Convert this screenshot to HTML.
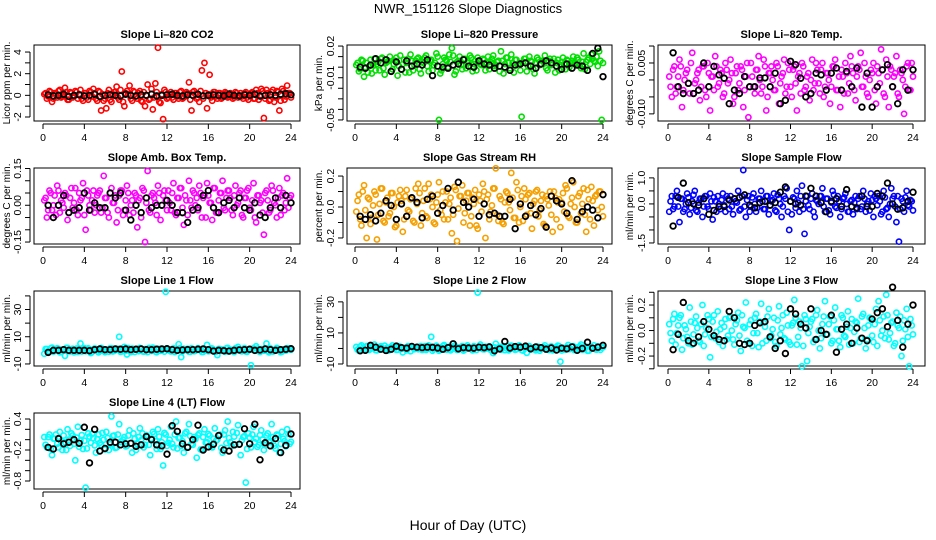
<!DOCTYPE html>
<html><head><meta charset="utf-8">
<style>
html,body{margin:0;padding:0;background:#fff;}
svg{display:block;font-family:"Liberation Sans",Arial,sans-serif;}
</style></head>
<body>
<svg id="chart" width="936" height="540" viewBox="0 0 936 540">
<text x="468" y="13" text-anchor="middle" font-size="13">NWR_151126  Slope Diagnostics</text>
<text x="468" y="530" text-anchor="middle" font-size="14">Hour of Day (UTC)</text>
</svg>
<script>
// ---------- data ----------
const hourTicks = [0,4,8,12,16,20,24];

const co2Color = [0.1,-0.3,0.4,-0.6,0.2,-0.2,0.5,-0.1,0.7,-0.4,0.3,-0.2,
0.4,-0.3,0.5,-0.5,0.2,-0.4,0.3,0.6,-0.3,0.4,-1.4,-0.5,
-1.2,0.5,-0.6,0.3,0.8,-0.4,2.2,-1.0,0.4,0.9,-0.5,0.3,
-0.3,0.4,-0.6,-1.0,1.0,-0.3,-1.3,1.1,4.4,-0.7,-2.2,0.3,
-0.2,0.3,-0.4,0.2,-0.3,0.4,-0.2,0.3,1.2,-1.4,0.4,-0.3,
-0.6,2.3,3.0,-1.2,1.9,-0.5,0.3,-0.3,0.2,-0.2,0.3,-0.2,
0.2,-0.3,0.3,-0.2,0.2,-0.3,0.3,-0.4,0.2,-0.3,0.5,-0.4,
0.6,-2.1,0.5,-0.5,0.3,-0.6,0.4,-1.4,0.6,-0.4,0.9,0.2];
const co2ColorB = [0.2,-0.1,0.3,-0.3,0.1,0.4,-0.2,0.0,0.3,-0.4,0.2,-0.1,0.3,0.1,-0.3,0.2,-0.2,0.4,-0.1,0.2,-0.5,0.3,0.1,-0.3,
0.2,-0.4,0.1,0.3,-0.2,0.5,-0.6,0.2,0.1,-0.3,0.4,-0.1,0.2,-0.5,0.3,0.0,-0.4,0.6,-0.2,0.3,-0.6,0.1,0.5,-0.3,
0.1,-0.2,0.2,-0.1,0.3,-0.3,0.1,0.2,-0.4,0.3,0.1,-0.2,0.4,-0.3,0.2,0.1,-0.2,0.3,-0.1,0.2,-0.3,0.1,0.2,-0.1,
0.1,-0.2,0.2,0.0,-0.1,0.2,-0.2,0.1,0.3,-0.3,0.2,-0.1,0.4,-0.3,0.2,-0.4,0.5,-0.2,0.3,-0.5,0.4,-0.1,0.2,-0.2];
const co2Black = [0.05,-0.05,0.0,0.1,-0.1,0.0,0.05,-0.05,0.0,0.1,-0.1,0.0,0.05,0.0,-0.05,0.1,0.0,-0.05,0.05,0.0,0.1,-0.05,0.0,0.05,0.1,0.0,-0.05,0.05,0.0,0.1,-0.05,0.0,0.05,0.0,-0.05,0.1,0.0,-0.05,0.05,0.0,0.1,-0.05,0.0,0.05,0.0,0.1,0.15,0.05];

const presColor = [0.002,-0.004,0.007,-0.009,0.004,0.001,-0.006,0.008,0.003,-0.003,0.009,-0.007,
0.005,0.010,-0.002,0.006,-0.008,0.011,0.003,-0.005,0.008,0.012,-0.003,0.006,
0.009,-0.006,0.004,0.011,-0.004,0.007,0.002,0.013,-0.050,-0.003,0.009,0.006,
0.012,0.018,-0.007,0.005,0.010,-0.002,0.008,0.004,0.011,-0.004,0.006,0.009,
0.003,0.008,-0.003,0.010,0.005,0.011,0.002,0.006,0.015,-0.006,0.009,0.004,
0.012,-0.005,0.007,0.003,-0.047,0.008,-0.004,0.010,0.005,-0.006,0.009,0.002,
0.006,0.011,-0.003,0.008,0.004,-0.005,0.007,0.002,0.009,-0.002,0.006,0.004,
0.010,0.003,0.007,-0.001,0.013,0.005,0.009,0.012,0.006,0.010,0.015,-0.050];
const presColorB = [0.004,-0.002,0.006,0.000,-0.005,0.007,0.002,-0.003,0.005,0.008,-0.001,0.004,0.006,-0.004,0.003,0.009,0.001,-0.002,0.007,0.004,-0.005,0.006,0.002,0.008,
-0.002,0.005,0.009,0.001,0.006,-0.003,0.004,0.010,-0.006,0.003,0.007,0.000,0.005,0.011,-0.004,0.006,0.002,0.008,-0.001,0.004,0.009,0.003,-0.003,0.006,
0.002,0.007,0.004,-0.002,0.008,0.001,0.005,-0.004,0.006,0.003,0.009,-0.001,0.004,0.007,0.002,-0.003,0.005,0.008,0.001,0.006,-0.002,0.004,0.007,0.003,
0.005,-0.001,0.006,0.002,0.008,0.004,-0.003,0.005,0.003,0.007,0.000,0.006,0.004,0.009,0.002,0.005,-0.002,0.007,0.003,0.008,0.005,0.001,0.006,0.004];
const presBlack = [0.0,-0.001,0.002,0.008,0.004,0.007,-0.004,0.005,-0.002,0.006,0.001,0.003,0.002,0.007,-0.008,0.001,0.000,-0.001,0.002,0.003,0.007,0.001,0.000,0.006,0.003,0.002,-0.001,0.001,0.000,-0.003,0.002,0.003,0.004,0.001,-0.001,0.003,0.006,0.004,0.001,-0.002,0.003,-0.001,0.002,0.001,-0.003,0.013,0.018,-0.009];

const tempColor = [0.001,-0.005,0.004,-0.002,0.006,-0.008,0.000,0.003,-0.004,0.008,-0.001,0.002,
-0.006,0.004,-0.003,0.005,-0.009,0.001,0.007,-0.002,0.003,-0.005,0.005,-0.001,
0.006,-0.007,0.002,-0.003,0.004,-0.008,0.001,-0.011,0.005,-0.002,0.003,0.007,
-0.004,0.006,-0.009,0.002,0.004,-0.003,0.005,-0.007,0.001,0.006,-0.002,0.003,
-0.005,0.004,-0.009,0.002,0.005,-0.003,0.001,-0.006,0.006,-0.001,0.003,-0.004,
0.005,-0.002,0.002,-0.007,0.004,0.006,-0.003,-0.008,0.001,0.005,-0.004,0.007,
0.002,-0.006,0.004,0.008,-0.002,0.001,-0.005,0.003,0.005,-0.007,0.002,0.009,
-0.004,0.006,-0.008,0.003,0.001,0.007,-0.005,0.002,-0.010,0.004,-0.003,0.005];
const tempColorB = [-0.002,0.003,-0.004,0.001,0.004,-0.003,0.002,-0.001,0.005,-0.004,0.000,0.003,-0.002,0.004,-0.005,0.002,0.001,-0.003,0.004,-0.001,0.002,-0.004,0.003,0.000,
0.002,-0.005,0.004,-0.001,0.003,-0.003,0.005,-0.002,0.001,-0.004,0.003,0.000,-0.002,0.004,-0.005,0.002,0.000,-0.003,0.004,-0.001,0.002,-0.004,0.005,-0.002,
0.003,-0.001,0.001,-0.004,0.004,-0.002,0.002,0.000,-0.003,0.005,-0.001,0.003,-0.005,0.002,0.000,-0.002,0.004,-0.003,0.001,0.003,-0.004,0.002,-0.001,0.004,
-0.003,0.001,0.003,-0.002,0.005,-0.004,0.000,0.002,-0.003,0.004,-0.001,0.003,-0.005,0.001,0.004,-0.002,0.002,-0.004,0.003,0.000,-0.002,0.005,-0.003,0.001];
const tempBlack = [0.008,-0.002,-0.004,-0.001,-0.004,-0.003,0.005,-0.002,0.004,0.0015,0.0005,-0.007,-0.003,-0.004,0.001,-0.002,-0.002,0.0006,0.0006,-0.002,0.002,-0.007,-0.006,0.0055,0.0045,0.0005,-0.005,-0.004,0.002,0.0015,-0.003,0.002,0.0035,-0.003,0.0025,-0.002,0.0035,-0.008,0.002,-0.008,-0.002,0.003,0.0045,-0.002,-0.007,0.003,-0.003,0.003];

const boxColor = [0.02,-0.05,0.06,-0.02,0.04,0.08,-0.03,0.01,0.05,-0.06,0.03,-0.01,
0.07,-0.04,0.02,0.09,-0.10,0.04,-0.02,0.06,0.00,0.05,-0.03,0.12,
0.03,-0.05,0.07,0.01,-0.07,0.04,0.06,-0.02,0.08,-0.04,0.02,0.05,
-0.09,0.03,0.07,-0.15,0.14,-0.03,0.05,0.01,0.08,-0.06,0.04,0.02,
0.06,-0.02,0.09,-0.04,0.03,0.07,-0.08,0.02,0.10,-0.01,0.05,0.03,
0.08,-0.05,0.04,0.09,0.01,-0.06,0.07,-0.03,0.05,0.10,-0.02,0.06,
0.03,-0.04,0.08,0.01,0.06,-0.05,0.03,0.07,-0.02,0.09,-0.07,0.04,
0.02,-0.12,0.06,-0.03,0.08,0.01,-0.05,0.07,0.04,-0.02,0.11,0.03];
const boxColorB = [0.03,-0.02,0.05,0.00,-0.04,0.06,0.02,-0.01,0.04,-0.03,0.07,0.01,-0.02,0.05,0.03,-0.04,0.06,0.00,0.02,-0.03,0.04,0.06,-0.01,0.03,
-0.03,0.05,0.01,0.04,-0.02,0.06,-0.04,0.02,0.05,0.00,-0.03,0.04,0.02,-0.05,0.06,0.01,-0.02,0.04,0.03,-0.04,0.05,0.00,0.06,-0.02,
0.01,0.05,-0.03,0.03,0.07,-0.01,0.04,-0.04,0.02,0.06,0.00,-0.02,0.05,0.03,-0.05,0.04,0.01,0.07,-0.03,0.02,0.05,-0.01,0.03,0.06,
-0.02,0.04,0.00,0.05,-0.04,0.03,0.06,-0.01,0.02,-0.05,0.04,0.01,-0.03,0.05,0.02,-0.02,0.06,0.00,0.03,-0.04,0.05,0.01,-0.01,0.04];
const boxBlack = [0.00,-0.05,0.00,0.04,-0.03,-0.02,-0.01,0.05,-0.02,0.01,-0.01,-0.01,0.05,0.03,0.05,-0.02,-0.06,0.00,-0.03,0.03,-0.01,0.00,0.00,0.02,0.00,-0.03,-0.03,-0.07,-0.02,-0.01,0.04,0.06,-0.01,-0.03,0.01,0.02,-0.01,0.03,-0.01,-0.02,0.01,-0.04,-0.05,-0.01,0.03,-0.01,0.04,0.01];

const rhColor = [-0.03,0.08,-0.12,0.14,-0.20,0.05,-0.07,0.10,-0.21,0.02,0.12,-0.10,
0.06,-0.04,0.09,-0.13,0.03,0.11,-0.16,0.07,-0.02,0.05,-0.09,0.12,
0.15,-0.12,0.04,-0.06,0.15,0.08,-0.10,0.03,0.16,-0.05,-0.08,0.10,
0.02,-0.17,0.13,-0.22,0.07,0.14,-0.04,0.09,-0.12,0.06,0.11,-0.14,
0.04,0.15,-0.20,0.08,-0.03,0.12,0.25,-0.09,0.05,-0.11,0.10,0.03,
0.22,-0.07,0.16,-0.10,0.07,0.12,-0.05,0.09,-0.14,0.04,0.11,-0.02,
0.08,-0.12,0.05,0.10,-0.16,0.06,0.03,-0.13,0.09,0.14,-0.06,0.02,
0.16,-0.10,0.07,-0.04,0.12,-0.16,0.05,0.13,-0.12,0.08,0.10,0.00];
const rhColorB = [0.04,-0.08,0.10,-0.02,0.06,-0.11,0.01,0.08,-0.05,0.12,-0.09,0.03,-0.06,0.09,0.00,-0.12,0.07,0.04,-0.08,0.11,-0.03,0.06,-0.10,0.02,
0.09,-0.04,0.12,-0.07,0.05,0.00,-0.11,0.08,-0.02,0.10,0.03,-0.08,0.06,-0.05,0.11,-0.01,0.07,-0.10,0.04,0.09,-0.06,0.02,-0.12,0.08,
-0.03,0.10,0.05,-0.08,0.01,0.12,-0.05,0.07,-0.10,0.03,0.09,-0.02,0.06,-0.07,0.11,0.00,-0.09,0.05,0.08,-0.04,0.02,0.10,-0.06,0.04,
-0.11,0.07,0.01,-0.05,0.10,-0.08,0.05,0.03,-0.03,0.12,-0.07,0.06,0.00,-0.10,0.09,0.02,-0.05,0.11,-0.08,0.04,0.07,-0.02,0.10,-0.06];
const rhBlack = [-0.06,-0.08,-0.05,-0.09,-0.04,0.04,0.01,-0.08,0.02,-0.06,0.06,0.03,-0.07,0.05,0.07,-0.04,0.01,0.12,-0.02,0.16,0.03,0.00,0.05,-0.06,0.02,-0.05,-0.04,-0.06,-0.06,0.05,-0.14,0.02,-0.06,0.01,-0.05,-0.01,-0.13,0.07,0.04,0.02,-0.04,0.17,-0.08,-0.03,0.00,-0.02,-0.07,0.08];

const sampleColor = [-0.3,0.3,-0.1,0.5,-0.7,0.2,-0.2,0.4,-0.4,0.1,0.5,-0.3,
0.2,-0.5,0.3,-0.1,0.4,-0.6,0.1,0.3,-0.2,0.4,-0.3,0.2,
0.3,-0.4,0.1,0.5,-0.2,1.3,-0.5,0.3,-0.1,0.4,-0.3,0.2,
0.5,-0.2,0.3,-0.4,0.1,0.4,-0.3,0.2,-0.5,0.3,0.6,-1.0,
-0.4,0.2,0.5,-0.3,0.7,-1.15,0.3,-0.2,0.4,-0.5,0.1,0.3,
0.6,-0.3,0.2,-0.4,0.5,-0.1,0.3,-0.5,0.2,0.4,-0.3,0.1,
-0.4,0.3,0.2,-0.2,0.5,-0.3,0.1,0.4,-0.5,0.2,0.3,-0.4,
0.5,-0.2,-0.5,0.6,0.3,-0.7,-1.45,0.2,-0.3,0.5,-0.1,0.1];
const sampleColorB = [0.1,-0.2,0.3,-0.1,0.2,-0.3,0.0,0.25,-0.15,0.35,-0.25,0.05,0.2,-0.1,0.3,-0.2,0.1,0.25,-0.3,0.0,0.15,-0.05,0.3,-0.2,
-0.1,0.2,0.05,-0.25,0.3,-0.1,0.15,-0.3,0.25,0.0,-0.15,0.2,0.1,-0.2,0.3,-0.05,0.15,-0.25,0.35,0.0,-0.1,0.2,-0.3,0.1,
0.25,-0.15,0.05,0.3,-0.2,0.1,-0.05,0.2,-0.3,0.15,0.0,0.3,-0.1,0.2,-0.25,0.05,0.35,-0.15,0.1,-0.2,0.25,0.0,-0.3,0.15,
0.05,-0.2,0.3,-0.1,0.2,0.0,-0.25,0.15,0.3,-0.05,0.1,-0.3,0.25,-0.15,0.0,0.2,-0.1,0.3,-0.2,0.1,0.25,-0.05,0.15,-0.25];
const sampleBlack = [-0.85,0.25,0.8,0.05,0.0,-0.05,0.2,-0.4,-0.25,-0.1,-0.1,0.15,0.2,0.25,0.35,-0.05,-0.15,0.05,0.1,-0.05,0.05,0.45,0.65,0.1,0.0,-0.05,0.3,0.6,0.3,0.05,-0.3,0.1,0.2,-0.1,0.55,-0.1,-0.15,0.3,-0.1,-0.1,0.4,0.3,0.8,0.0,-0.2,-0.15,0.1,0.45];

const line1Color = [-2.5,1.0,-1.0,2.0,-0.5,1.5,-1.5,0.5,-4.0,1.8,-0.8,1.2,
0.3,-1.2,5.0,0.8,-0.6,1.5,-2.0,0.5,1.0,-1.5,1.8,-0.3,
0.6,-1.0,1.5,-0.5,1.2,10.0,-0.8,2.5,-3.0,0.8,1.3,-1.2,
0.5,1.8,-0.7,1.0,-1.3,0.7,2.0,-0.9,1.2,-0.4,1.0,43.0,
0.3,-0.8,1.5,-0.5,4.5,-5.0,1.2,0.3,-1.0,1.5,-0.6,0.9,
0.4,-1.2,0.8,4.0,-0.5,1.3,-0.8,-3.5,1.0,0.5,-1.0,1.8,
0.3,-0.7,1.5,2.5,-0.5,1.0,-0.8,0.7,-11.0,1.5,3.0,-0.6,
1.0,-0.3,5.0,-1.5,0.8,-0.5,1.8,1.0,-1.0,0.5,1.5,0.8];
const line1ColorB = [1.0,-0.5,1.5,-1.0,0.5,1.2,-1.3,0.2,1.8,-0.7,0.8,-1.5,1.3,0.0,-0.9,1.6,-0.3,0.9,-1.2,1.4,0.3,-0.6,1.1,-1.4,
0.6,1.5,-0.8,0.1,1.2,-1.1,0.7,-0.4,1.6,-1.3,0.4,0.9,-0.6,1.3,-1.0,0.2,1.7,-0.5,0.8,-1.4,1.1,0.0,-0.9,1.4,
-0.2,1.0,-1.3,0.6,1.5,-0.7,0.3,1.2,-1.1,0.8,-0.4,1.6,0.1,-1.2,0.9,-0.6,1.4,0.2,-1.0,1.1,-0.3,0.7,1.5,-0.8,
0.4,-1.3,1.2,0.0,-0.7,1.6,-1.1,0.5,0.9,-0.4,1.3,-1.2,0.2,1.0,-0.6,1.5,-0.9,0.3,1.1,-1.4,0.7,-0.2,1.4,0.5];
const line1Black = [-1.5,0,0,0.5,0,0,0,0,-0.3,0.5,1,0.5,0.5,1,0.8,1,0.5,0.8,1,0.5,0.5,0.8,1,1.2,0.5,0,0.3,0.5,0.5,0.8,1,0.5,-0.5,0,-0.3,-0.5,0,0.3,0.5,0.8,0,0.3,1,0.5,0,0.5,0.8,1.2];

const line2Color = [1.0,-1.5,2.0,-0.5,1.5,-1.0,0.5,2.5,-1.2,1.0,-0.3,1.8,
0.5,-1.0,2.0,0.3,-0.8,1.2,-2.5,0.6,1.5,-1.8,0.8,0.2,
-0.5,1.5,0.5,-1.0,2.0,7.5,-0.6,1.8,-1.5,0.5,2.2,-0.8,
1.2,-0.4,1.8,-1.0,0.6,1.5,-0.7,2.0,0.3,-1.2,1.0,36.0,
2.5,-0.5,1.2,0.8,-1.0,-3.0,3.0,0.5,-0.8,1.5,0.2,-1.2,
1.8,0.5,-0.6,2.0,-1.0,0.8,-2.8,1.5,0.3,-0.5,1.2,-1.5,
0.8,2.0,-0.4,1.0,-1.2,0.6,1.8,-8.5,0.5,-0.8,2.2,-0.3,
1.5,-1.0,0.8,2.5,-0.5,1.2,-1.5,0.6,2.0,-0.8,1.0,0.5];
const line2ColorB = [-0.8,1.2,0.3,-1.4,1.6,-0.2,0.9,-1.1,0.5,1.4,-0.6,0.1,-1.3,1.0,0.6,-0.9,1.5,-0.4,0.2,-1.2,1.3,0.7,-0.5,1.1,
0.0,-1.0,1.4,-0.3,0.8,-1.5,1.2,0.4,-0.7,1.6,-0.1,0.9,-1.2,0.5,1.3,-0.8,0.2,-1.4,1.1,0.6,-0.4,1.5,-1.0,0.3,
1.2,-0.6,0.0,1.4,-1.3,0.7,-0.2,1.0,0.5,-1.1,1.6,-0.5,0.3,-0.9,1.2,0.8,-1.4,0.1,1.5,-0.7,0.4,-1.2,1.1,-0.3,
0.9,0.2,-1.0,1.3,-0.6,0.5,1.5,-1.3,0.0,0.8,-0.4,1.2,-1.1,0.6,1.4,-0.8,0.3,-1.5,1.0,0.1,-0.5,1.3,-0.9,0.7];
const line2Black = [-1.5,-1.2,2.0,0.8,-0.5,-1.3,-0.5,1.5,0.5,0.2,1.3,0.8,0.5,0.8,0.7,0.3,-0.5,0.5,3.0,-0.2,0.5,0.3,0.2,0.8,0.5,1.0,-1.5,-0.3,4.5,0.3,1.2,0.8,1.5,-0.2,1.0,0.5,-0.5,0.3,-1.0,0.2,-0.2,1.0,-1.2,0.0,4.0,0.2,0.8,2.0];

const line3Color = [0.05,-0.08,0.13,-0.02,0.10,-0.15,0.04,-0.05,0.18,-0.11,0.06,0.02,
-0.09,0.20,-0.03,0.12,-0.21,0.07,-0.06,0.15,0.01,-0.12,0.09,-0.04,
0.11,-0.07,0.05,0.14,-0.16,0.03,0.22,-0.10,0.08,-0.02,0.13,-0.13,
0.21,0.06,-0.08,0.17,-0.04,0.10,-0.12,0.19,0.02,-0.06,0.14,-0.09,
0.04,0.24,-0.11,0.07,-0.28,0.12,-0.24,0.03,0.09,-0.07,0.16,-0.14,
0.05,0.23,-0.03,0.11,-0.08,0.18,0.01,-0.13,0.10,-0.05,0.15,0.02,
-0.10,0.07,0.25,-0.06,0.13,-0.14,0.04,0.09,-0.09,0.17,0.23,-0.04,
0.11,0.28,-0.07,0.06,-0.12,0.14,0.02,-0.20,0.08,0.17,-0.28,0.04];
const line3ColorB = [-0.02,0.09,-0.11,0.04,0.12,-0.06,0.01,-0.10,0.07,-0.03,0.11,-0.08,0.05,-0.12,0.02,0.09,-0.05,0.12,-0.01,-0.09,0.06,0.03,-0.07,0.10,
0.00,-0.11,0.08,-0.04,0.12,0.02,-0.08,0.05,-0.12,0.10,-0.02,0.07,-0.10,0.03,0.11,-0.06,0.01,-0.09,0.08,-0.03,0.12,-0.07,0.04,-0.11,
0.06,0.10,-0.05,0.02,-0.12,0.09,-0.02,0.07,-0.09,0.12,0.00,-0.06,0.11,-0.03,0.05,-0.10,0.08,0.01,-0.08,0.12,-0.04,0.03,-0.11,0.09,
-0.01,0.06,-0.09,0.11,0.02,-0.07,0.10,-0.04,0.05,-0.12,0.08,0.00,-0.06,0.12,-0.02,0.07,-0.10,0.04,0.11,-0.08,0.01,-0.05,0.09,-0.03];
const line3Black = [-0.15,-0.03,0.22,-0.08,-0.10,-0.05,0.07,0.01,-0.04,-0.07,-0.08,0.15,0.10,-0.10,-0.11,-0.10,0.04,0.06,0.07,-0.05,-0.14,-0.08,-0.18,0.17,0.13,0.05,0.02,0.17,-0.07,0.00,-0.03,0.12,-0.17,0.01,0.05,-0.10,0.02,-0.06,-0.08,0.09,0.14,0.17,0.03,0.34,0.08,-0.13,0.05,0.20];

const line4Color = [0.05,-0.15,0.10,-0.30,0.02,-0.08,0.15,-0.20,-0.05,0.20,-0.12,0.08,
-0.40,0.25,-0.02,-0.18,-0.93,0.12,-0.06,0.03,-0.25,0.10,-0.10,0.00,
0.15,-0.20,0.45,0.08,-0.15,0.30,-0.05,0.05,-0.12,0.18,-0.25,0.02,
-0.08,0.22,0.12,-0.10,0.05,-0.30,0.15,-0.03,0.20,-0.18,-0.50,0.10,
-0.06,0.25,-0.15,0.35,0.03,-0.12,-0.25,0.15,0.30,-0.08,0.05,-0.35,
0.12,-0.20,0.20,-0.05,0.08,-0.15,0.22,0.00,0.10,-0.25,0.18,0.35,
-0.05,0.15,-0.10,0.28,-0.30,0.05,-0.83,0.12,-0.15,0.25,0.02,-0.10,
0.18,-0.20,0.08,-0.05,0.30,-0.12,0.10,-0.25,0.15,-0.03,0.20,-0.08];
const line4ColorB = [-0.10,0.05,-0.18,0.02,0.10,-0.15,-0.03,0.08,-0.20,0.00,0.12,-0.08,0.04,-0.14,0.09,-0.02,-0.17,0.06,0.11,-0.11,0.01,-0.06,0.13,-0.19,
0.03,-0.09,0.07,-0.16,0.10,-0.04,0.00,-0.13,0.08,-0.07,0.12,-0.20,0.05,-0.01,-0.15,0.09,-0.10,0.02,0.11,-0.18,0.06,-0.05,0.13,-0.12,
0.00,-0.08,0.10,-0.17,0.04,-0.03,0.12,-0.14,0.07,-0.10,0.01,0.09,-0.19,0.05,-0.06,0.11,-0.13,0.02,-0.02,0.08,-0.16,0.10,-0.07,0.03,
-0.12,0.06,0.13,-0.09,-0.01,0.07,-0.18,0.04,0.10,-0.05,-0.14,0.09,0.00,-0.11,0.12,-0.03,0.05,-0.17,0.08,-0.08,0.02,-0.13,0.11,-0.04];
const line4Black = [-0.15,-0.18,0.02,-0.08,-0.05,0.0,-0.07,0.24,-0.45,0.20,-0.22,-0.17,-0.05,-0.05,-0.10,-0.08,-0.07,-0.13,-0.10,0.06,0.00,-0.10,-0.12,-0.28,0.27,0.16,-0.08,-0.15,0.0,0.28,-0.20,-0.14,-0.09,0.08,-0.20,-0.22,-0.10,-0.09,0.21,-0.08,0.30,-0.39,-0.06,-0.12,0.02,-0.25,-0.11,0.11];

const co2Ticks=[-2,-1,0,1,2,3,4], co2Labels=["-2","","0","","2","","4"];
const presTicks=[-0.05,-0.04,-0.03,-0.02,-0.01,0,0.01,0.02], presLabels=["-0.05","","","","-0.01","","","0.02"];
const tempTicks=[-0.01,-0.005,0,0.005,0.01], tempLabels=["-0.010","","","0.005",""];
const boxTicks=[-0.15,-0.10,-0.05,0,0.05,0.10,0.15], boxLabels=["-0.15","","","0.00","","","0.15"];
const rhTicks=[-0.2,-0.1,0,0.1,0.2], rhLabels=["-0.2","","0.0","","0.2"];
const sampleTicks=[-1.5,-1,-0.5,0,0.5,1], sampleLabels=["-1.5","","","0.0","","1.0"];
const l1Ticks=[-10,0,10,20,30,40], l1Labels=["-10","","10","","30",""];
const l2Ticks=[-10,0,10,20,30], l2Labels=["-10","","10","","30"];
const l3Ticks=[-0.3,-0.2,-0.1,0,0.1,0.2,0.3], l3Labels=["","-0.2","","0.0","","0.2",""];
const l4Ticks=[-0.8,-0.6,-0.4,-0.2,0,0.2,0.4], l4Labels=["-0.8","","","-0.2","","","0.4"];

// ---------- layout ----------
const colL=[34,347,658], colR=[300,612,925], colX0=[43,355,668], colX24=[291,603,913];
const rowT=[45,168,291,413], rowB=[121,244,366,489];

const panels=[
 {name:"co2",title:"Slope Li\u2013820 CO2",ylab:"Licor ppm per min.",c:0,r:0,lo:-2.37,hi:4.65,ticks:co2Ticks,labels:co2Labels,color:"#ff0000",data:co2Color,dataB:co2ColorB,black:co2Black},
 {name:"pressure",title:"Slope Li\u2013820 Pressure",ylab:"kPa per min.",c:1,r:0,lo:-0.051,hi:0.021,ticks:presTicks,labels:presLabels,color:"#00e000",data:presColor,dataB:presColorB,black:presBlack},
 {name:"temp",title:"Slope Li\u2013820 Temp.",ylab:"degrees C per min.",c:2,r:0,lo:-0.0121,hi:0.0103,ticks:tempTicks,labels:tempLabels,color:"#ff00ff",data:tempColor,dataB:tempColorB,black:tempBlack},
 {name:"amb-box-temp",title:"Slope Amb. Box Temp.",ylab:"degrees C per min.",c:0,r:1,lo:-0.158,hi:0.152,ticks:boxTicks,labels:boxLabels,color:"#ff00ff",data:boxColor,dataB:boxColorB,black:boxBlack},
 {name:"gas-rh",title:"Slope Gas Stream RH",ylab:"percent per min.",c:1,r:1,lo:-0.239,hi:0.252,ticks:rhTicks,labels:rhLabels,color:"#f5a000",data:rhColor,dataB:rhColorB,black:rhBlack},
 {name:"sample-flow",title:"Slope Sample Flow",ylab:"ml/min per min.",c:2,r:1,lo:-1.54,hi:1.38,ticks:sampleTicks,labels:sampleLabels,color:"#0000ff",data:sampleColor,dataB:sampleColorB,black:sampleBlack},
 {name:"line1-flow",title:"Slope Line 1 Flow",ylab:"ml/min per min.",c:0,r:2,lo:-11.5,hi:43.6,ticks:l1Ticks,labels:l1Labels,color:"#00ffff",data:line1Color,dataB:line1ColorB,black:line1Black},
 {name:"line2-flow",title:"Slope Line 2 Flow",ylab:"ml/min per min.",c:1,r:2,lo:-11.3,hi:37,ticks:l2Ticks,labels:l2Labels,color:"#00ffff",data:line2Color,dataB:line2ColorB,black:line2Black},
 {name:"line3-flow",title:"Slope Line 3 Flow",ylab:"ml/min per min.",c:2,r:2,lo:-0.278,hi:0.31,ticks:l3Ticks,labels:l3Labels,color:"#00ffff",data:line3Color,dataB:line3ColorB,black:line3Black},
 {name:"line4-flow",title:"Slope Line 4 (LT) Flow",ylab:"ml/min per min.",c:0,r:3,lo:-0.955,hi:0.516,ticks:l4Ticks,labels:l4Labels,color:"#00ffff",data:line4Color,dataB:line4ColorB,black:line4Black}
];

const NS="http://www.w3.org/2000/svg";
const svg=document.getElementById("chart");
function mk(tag,attrs,parent){const e=document.createElementNS(NS,tag);for(const k in attrs)e.setAttribute(k,attrs[k]);(parent||svg).appendChild(e);return e;}

panels.forEach(p=>{
  const L=colL[p.c],R=colR[p.c],T=rowT[p.r],B=rowB[p.r];
  const xs=h=>colX0[p.c]+(colX24[p.c]-colX0[p.c])*h/24;
  const ys=v=>B-(v-p.lo)/(p.hi-p.lo)*(B-T);
  const g=mk("g",{});
  
  
  const t=mk("text",{x:(L+R)/2,y:T-7,"text-anchor":"middle","font-size":"11","font-weight":"bold"},g);
  t.textContent=p.title;
  
  
  const cx=p.c===0?10:L-25;
  const yl=mk("text",{x:cx,y:(T+B)/2,"text-anchor":"middle","font-size":"10",transform:`rotate(-90 ${cx} ${(T+B)/2})`},g);
  yl.textContent=p.ylab;
  
  
  const ya=mk("g",{stroke:"#000","stroke-width":"1"},g);
  
  
  const yv=p.ticks.map(ys);
  mk("line",{x1:L-4,x2:L-4,y1:Math.min(...yv),y2:Math.max(...yv)},ya);
  p.ticks.forEach((v,i)=>{
    const y=ys(v);
    mk("line",{x1:L-9,x2:L-4,y1:y,y2:y},ya);
    if(p.labels[i]){
      const lx=L-13;
      const tl=mk("text",{x:lx,y:y,"text-anchor":"middle","font-size":"10.5",stroke:"none",transform:`rotate(-90 ${lx} ${y})`},g);
      tl.textContent=p.labels[i];
      
      
    }
  });
  const xa=mk("g",{stroke:"#000","stroke-width":"1"},g);
  
  
  mk("line",{x1:xs(0),x2:xs(24),y1:B+3,y2:B+3},xa);
  hourTicks.forEach(h=>{
    mk("line",{x1:xs(h),x2:xs(h),y1:B+3,y2:B+8},xa);
    const tl=mk("text",{x:xs(h),y:B+20,"text-anchor":"middle","font-size":"10.5",stroke:"none"},g);
    tl.textContent=h;
    
    
  });
  const fr=mk("rect",{x:L,y:T,width:R-L,height:B-T,fill:"none",stroke:"#000","stroke-width":"1"},g);
  
  
  const n=p.data.length;
  p.data.forEach((v,i)=>{
    const c=mk("circle",{cx:xs(24*(i+0.5)/n),cy:ys(v),r:2.6,fill:"none",stroke:p.color,"stroke-width":"1.6"},g);
    
    
  });
  const nb=p.dataB.length;
  p.dataB.forEach((v,i)=>{
    const c=mk("circle",{cx:xs(24*(i+1)/nb),cy:ys(v),r:2.6,fill:"none",stroke:p.color,"stroke-width":"1.6"},g);
    
    
  });
  const m=p.black.length;
  p.black.forEach((v,i)=>{
    const c=mk("circle",{cx:xs(24*(i+1)/m),cy:ys(v),r:2.8,fill:"none",stroke:"#000","stroke-width":"1.8"},g);
    
    
  });
});
</script>
</body></html>
